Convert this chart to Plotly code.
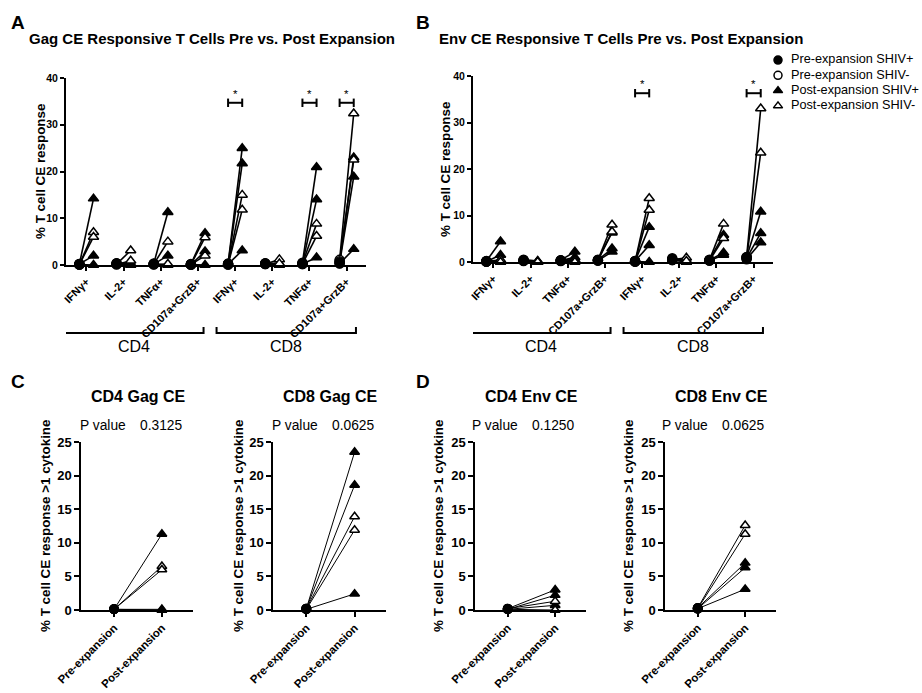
import plotly.graph_objects as go

W, H = 922, 693
FONT = "Arial, 'Liberation Sans', Helvetica, sans-serif"

# ---------------- data ----------------
SUBSETS = ["CD4", "CD8"]
CYTOKINES = ["IFNγ+", "IL-2+", "TNFα+", "CD107a+GrzB+"]
CATEGORY_LABELS = CYTOKINES * 2

# Panel A: Gag CE (one list per category, order CD4 x4 then CD8 x4)
GAG_PRE_POS = [[0.2, 0.2, 0.1], [0.4, 0.3, 0.3], [0.3, 0.2, 0.2], [0.2, 0.1, 0.1],
               [0.3, 0.2, 0.2], [0.4, 0.3, 0.3], [0.5, 0.3, 0.2], [0.6, 0.4, 0.3]]
GAG_PRE_NEG = [[0.1, 0.1], [0.2, 0.1], [0.2, 0.1], [0.1, 0.1],
               [0.1, 0.1], [0.2, 0.2], [0.3, 0.2], [1.1, 0.8]]
GAG_POST_POS = [[14.2, 2.0, 0.0], [0.3, 0.1, 0.0], [11.3, 2.0, 0.0], [6.8, 2.9, 0.0],
                [25.0, 21.7, 3.1], [0.3, 0.1, 0.0], [20.9, 14.0, 1.6], [23.0, 18.9, 3.4]]
GAG_POST_NEG = [[7.0, 6.0], [3.1, 0.9], [5.0, 0.2], [5.9, 2.0],
                [15.0, 11.8], [1.2, 0.3], [8.8, 6.2], [32.4, 22.5]]
GAG_SIG = [4, 6, 7]
GAG_SIG_Y = 34.7

# Panel B: Env CE
ENV_PRE_POS = [[0.2, 0.1, 0.1], [0.5, 0.4, 0.3], [0.4, 0.3, 0.3], [0.5, 0.4, 0.3],
               [0.2, 0.2, 0.1], [0.8, 0.6, 0.5], [0.5, 0.4, 0.3], [1.0, 0.8, 0.6]]
ENV_PRE_NEG = [[0.1, 0.1], [0.3, 0.2], [0.3, 0.2], [0.4, 0.3],
               [0.1, 0.1], [0.5, 0.4], [0.4, 0.3], [1.1, 0.9]]
ENV_POST_POS = [[4.4, 1.5, 0.0], [0.2, 0.0, 0.0], [2.2, 1.0, 0.5], [6.3, 2.9, 2.2],
                [7.5, 3.6, 0.0], [0.3, 0.0, 0.0], [5.8, 2.0, 1.5], [10.8, 6.2, 4.2]]
ENV_POST_NEG = [[0.5, 0.0], [0.1, 0.0], [0.3, 0.0], [8.0, 6.5],
                [13.7, 11.2], [0.9, 0.2], [8.2, 5.1], [33.0, 23.5]]
ENV_SIG = [4, 7]
ENV_SIG_Y = 36.3

# Panels C / D: % responding to >1 cytokine
PAIR_TITLES = ["CD4 Gag CE", "CD8 Gag CE", "CD4 Env CE", "CD8 Env CE"]
PAIR_PVALUES = ["0.3125", "0.0625", "0.1250", "0.0625"]
PAIR_PRE_POS = [[0.1, 0.1, 0.1], [0.2, 0.2, 0.1], [0.2, 0.1, 0.1], [0.3, 0.2, 0.2]]
PAIR_PRE_NEG = [[0.1, 0.1], [0.2, 0.1], [0.2, 0.1], [0.3, 0.2]]
PAIR_POST_POS = [[11.3, 0.1, 0.0], [23.5, 18.6, 2.4], [3.0, 2.2, 0.7], [7.0, 6.3, 3.1]]
PAIR_POST_NEG = [[6.5, 6.0], [13.9, 11.9], [1.3, 0.0], [12.6, 11.3]]
PAIR_TICKS = ["Pre-expansion", "Post-expansion"]

LEGEND_NAMES = ["Pre-expansion SHIV+", "Pre-expansion SHIV-",
                "Post-expansion SHIV+", "Post-expansion SHIV-"]
LEGEND_SYMBOLS = ["circle", "circle", "triangle-up", "triangle-up"]
LEGEND_FILLS = ["black", "white", "black", "white"]


def px(x):
    return x / W


def py(y):
    return 1 - y / H


fig = go.Figure()

OFF = 0.19


def add_paired(xa, ya, groups, size, lw):
    """groups: list of (x_pre, x_post, pre_pos, pre_neg, post_pos, post_neg)"""
    lx, ly = [], []
    for xpre, xpost, pp, pn, qp, qn in groups:
        for a, b in list(zip(pp, qp)) + list(zip(pn, qn)):
            lx += [xpre, xpost, None]
            ly += [a, b, None]
    fig.add_trace(go.Scatter(x=lx, y=ly, mode="lines", xaxis=xa, yaxis=ya,
                             line=dict(color="black", width=lw),
                             showlegend=False, hoverinfo="skip", cliponaxis=False))
    specs = [
        (1, "pre_neg"),
        (0, "pre_pos"),
        (2, "post_pos"),
        (3, "post_neg"),
    ]
    for idx, which in specs:
        xs, ys = [], []
        for xpre, xpost, pp, pn, qp, qn in groups:
            vals = {"pre_pos": pp, "pre_neg": pn, "post_pos": qp, "post_neg": qn}[which]
            xv = xpre if which.startswith("pre") else xpost
            xs += [xv] * len(vals)
            ys += list(vals)
        fig.add_trace(go.Scatter(
            x=xs, y=ys, mode="markers", xaxis=xa, yaxis=ya,
            marker=dict(symbol=LEGEND_SYMBOLS[idx], size=size, color=LEGEND_FILLS[idx],
                        line=dict(color="black", width=1.5)),
            name=LEGEND_NAMES[idx], showlegend=False, cliponaxis=False, hoverinfo="y"))


def add_sig(xa, ya, idxs, h):
    sx, sy = [], []
    for i in idxs:
        a, b = i - OFF, i + OFF
        sx += [a, a, None, a, b, None, b, b, None]
        sy += [h - 0.9, h + 0.9, None, h, h, None, h - 0.9, h + 0.9, None]
        fig.add_annotation(x=i, y=h, xref=xa, yref=ya, text="*", showarrow=False,
                           yanchor="bottom", yshift=1, font=dict(size=11.5, family=FONT))
    fig.add_trace(go.Scatter(x=sx, y=sy, mode="lines", xaxis=xa, yaxis=ya,
                             line=dict(color="black", width=2),
                             showlegend=False, hoverinfo="skip", cliponaxis=False))


# Panels A, B
for xa, ya, pre_p, pre_n, post_p, post_n, sig, sigy in [
    ("x", "y", GAG_PRE_POS, GAG_PRE_NEG, GAG_POST_POS, GAG_POST_NEG, GAG_SIG, GAG_SIG_Y),
    ("x2", "y2", ENV_PRE_POS, ENV_PRE_NEG, ENV_POST_POS, ENV_POST_NEG, ENV_SIG, ENV_SIG_Y),
]:
    groups = [(i - OFF, i + OFF, pre_p[i], pre_n[i], post_p[i], post_n[i])
              for i in range(len(CATEGORY_LABELS))]
    add_paired(xa, ya, groups, 9, 1.6)
    add_sig(xa, ya, sig, sigy)

# Panels C, D
pair_axes = [("x3", "y3"), ("x4", "y4"), ("x5", "y5"), ("x6", "y6")]
for k, (xa, ya) in enumerate(pair_axes):
    add_paired(xa, ya, [(0, 1, PAIR_PRE_POS[k], PAIR_PRE_NEG[k],
                         PAIR_POST_POS[k], PAIR_POST_NEG[k])], 8.5, 1.0)

# Legend (drawn on its own hidden axis, one row per legend entry)
rows = list(range(len(LEGEND_NAMES)))
for i in rows:
    fig.add_trace(go.Scatter(
        x=[0], y=[i], mode="markers", xaxis="x7", yaxis="y7",
        marker=dict(symbol=LEGEND_SYMBOLS[i], size=8, color=LEGEND_FILLS[i],
                    line=dict(color="black", width=1.5)),
        showlegend=False, hoverinfo="skip", cliponaxis=False))
fig.add_trace(go.Scatter(
    x=[13] * len(rows), y=rows, mode="text", text=LEGEND_NAMES,
    textposition="middle right", xaxis="x7", yaxis="y7",
    textfont=dict(size=12.7, family=FONT, color="black"),
    showlegend=False, hoverinfo="skip", cliponaxis=False))

# ---------------- layout ----------------
axis_common = dict(showgrid=False, zeroline=False, showline=True, linecolor="black",
                   ticks="outside", tickcolor="black", fixedrange=True, automargin=False)

layout = dict(
    width=W, height=H, margin=dict(l=0, r=0, t=0, b=0, pad=0, autoexpand=False),
    paper_bgcolor="white", plot_bgcolor="white",
    font=dict(family=FONT, color="black"),
    showlegend=False,
)

AB_DOM = [("xaxis", "yaxis", "y", "x", (66, 366), (78, 265)),
          ("xaxis2", "yaxis2", "y2", "x2", (473, 773), (76, 262))]
for xk, yk, yanc, xanc, (x0, x1), (y0, y1) in AB_DOM:
    layout[xk] = dict(axis_common, domain=[px(x0), px(x1)], anchor=yanc,
                      range=[-0.55, 7.52], tickvals=list(range(8)),
                      ticktext=CATEGORY_LABELS, tickangle=-45, ticklen=4, tickwidth=1.5,
                      linewidth=2, tickfont=dict(size=11, weight="bold", family=FONT))
    layout[yk] = dict(axis_common, domain=[py(y1), py(y0)], anchor=xanc,
                      range=[0, 40], tickvals=[0, 10, 20, 30, 40], ticklen=4,
                      tickwidth=1.5, linewidth=2,
                      tickfont=dict(size=10.5, weight="bold", family=FONT))

CD_X = [(81, 193), (273, 386), (475, 586), (665, 776)]
for k, (x0, x1) in enumerate(CD_X):
    n = k + 3
    layout[f"xaxis{n}"] = dict(axis_common, domain=[px(x0), px(x1)], anchor=f"y{n}",
                               range=[-0.69, 1.65], tickvals=[0, 1], ticktext=PAIR_TICKS,
                               tickangle=-45, ticklen=5, tickwidth=1.5, linewidth=1.5,
                               tickfont=dict(size=11.4, weight="bold", family=FONT))
    layout[f"yaxis{n}"] = dict(axis_common, domain=[py(610), py(442)], anchor=f"x{n}",
                               range=[0, 25], tickvals=[0, 5, 10, 15, 20, 25], ticklen=5,
                               tickwidth=1.5, linewidth=1.5,
                               tickfont=dict(size=13, weight="bold", family=FONT))

# hidden legend axis: 1 x unit = 1 px, rows 15 px apart
layout["xaxis7"] = dict(domain=[px(778), px(922)], range=[0, 144], visible=False,
                        fixedrange=True, anchor="y7")
layout["yaxis7"] = dict(domain=[py(113.5), py(52.5)], range=[3.5, -0.5], visible=False,
                        fixedrange=True, anchor="x7")

fig.update_layout(**layout)

# ---------------- annotations ----------------
def text(x, y, s, size, bold=False, angle=0, xanchor="center"):
    fig.add_annotation(x=px(x), y=py(y), xref="paper", yref="paper", text=s,
                       showarrow=False, xanchor=xanchor, yanchor="middle",
                       textangle=angle,
                       font=dict(size=size, family=FONT, color="black",
                                 weight="bold" if bold else "normal"))

# panel letters
for ch, x, y in [("A", 18, 22), ("B", 423, 22), ("C", 18, 382), ("D", 423, 382)]:
    text(x, y, ch, 19, bold=True)

# panel titles A/B
text(27, 39, "Gag CE Responsive T Cells Pre vs. Post Expansion", 15, bold=True, xanchor="left")
text(437, 39, "Env CE Responsive T Cells Pre vs. Post Expansion", 15, bold=True, xanchor="left")

# y-axis titles A/B
text(40, 172, "% T cell CE response", 13.4, bold=True, angle=-90)
text(445, 170, "% T cell CE response", 13.4, bold=True, angle=-90)

# group brackets under A/B
GROUP_SPANS = [(-0.6, 3.15), (3.5, 7.25)]
for xref in ["x", "x2"]:
    for (a, b), lab in zip(GROUP_SPANS, SUBSETS):
        fig.add_shape(type="path", xref=xref, yref="paper",
                      path=f"M {a},{py(327)} L {a},{py(333)} L {b},{py(333)} L {b},{py(327)}",
                      line=dict(color="black", width=2))
        fig.add_annotation(x=(a + b) / 2, y=py(347), xref=xref, yref="paper", text=lab,
                           showarrow=False, yanchor="middle",
                           font=dict(size=16, family=FONT, color="black"))

# C/D titles, p-values, y titles
TITLE_X = [138, 330, 531, 721]
PV_X = [(103, 161), (295, 353), (495, 553), (685, 743)]
YT_X = [45, 238, 438, 628]
for k in range(4):
    text(TITLE_X[k], 396, PAIR_TITLES[k], 16, bold=True)
    text(PV_X[k][0], 425, "P value", 13.8)
    text(PV_X[k][1], 425, PAIR_PVALUES[k], 13.8)
    text(YT_X[k], 526, "% T cell CE response >1 cytokine", 13.4, bold=True, angle=-90)

fig.write_html("out.html",
               config={"displayModeBar": False, "staticPlot": False},
               post_script="document.body.style.margin='0';"
                           "document.body.style.overflow='hidden';")
